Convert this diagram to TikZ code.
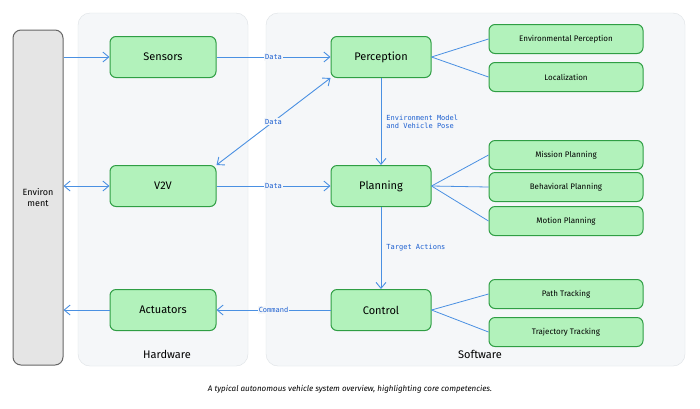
\documentclass[tikz,border=0pt]{standalone}
\usepackage{fontspec}
\setmainfont{Fira Sans}
\newfontfamily\lblfont{DejaVu Sans Mono}
\usetikzlibrary{arrows.meta}
\definecolor{gfill}{HTML}{B2F2BB}
\definecolor{gline}{HTML}{2F9E44}
\definecolor{ablue}{HTML}{4A90E2}
\definecolor{tblue}{HTML}{1C5FD0}
\definecolor{panel}{HTML}{F5F7F9}
\definecolor{panelline}{HTML}{DDE1E5}
\begin{document}
\begin{tikzpicture}[x=1pt,y=-1pt,
  box/.style={draw=gline,fill=gfill,line width=1pt,rounded corners=6pt,inner sep=0pt,font=\fontsize{11}{12}\selectfont},
  big/.style={box,minimum width=106pt,minimum height=41pt},
  mid/.style={box,minimum width=100pt,minimum height=41pt},
  small/.style={box,minimum width=154pt,minimum height=29pt,font=\fontsize{8}{9}\selectfont},
  arr/.style={draw=ablue,line width=0.9pt,-{Straight Barb[length=6pt,width=10pt]}},
  ln/.style={draw=ablue,line width=0.8pt},
  lbl/.style={fill=panel,inner sep=1pt,text=tblue,font=\lblfont\fontsize{7}{8}\selectfont}]
\useasboundingbox (0,0) rectangle (700,408);
\fill[white] (0,0) rectangle (700,408);
\draw[panelline,fill=panel,rounded corners=12pt] (78,13) rectangle (248,366);
\draw[panelline,fill=panel,rounded corners=12pt] (266,13) rectangle (685,366);
\node[draw=gray!80!black,fill=gray!20,line width=1pt,rounded corners=8pt,minimum width=50pt,minimum height=335pt,align=center,font=\fontsize{9}{11}\selectfont] (env) at (38,197.5) {Environ\\ment};
\node[big] (sen) at (163,57) {Sensors};
\node[big] (v2v) at (163,186) {V2V};
\node[big] (act) at (163,310) {Actuators};
\node[mid] (per) at (381,57) {Perception};
\node[mid] (pla) at (381,186) {Planning};
\node[mid] (con) at (381,310) {Control};
\node[small] (ep) at (566,39) {Environmental Perception};
\node[small] (lo) at (566,77) {Localization};
\node[small] (mp) at (566,155) {Mission Planning};
\node[small] (bp) at (566,187) {Behavioral Planning};
\node[small] (mo) at (566,221) {Motion Planning};
\node[small] (pt) at (566,294) {Path Tracking};
\node[small] (tt) at (566,332) {Trajectory Tracking};
\node[font=\fontsize{11}{12}\selectfont] (hw) at (167,354) {Hardware};
\node[font=\fontsize{11}{12}\selectfont] (sw) at (480,354) {Software};
\node[font=\itshape\fontsize{8}{9}\selectfont] (cap) at (350,389) {A typical autonomous vehicle system overview, highlighting core competencies.};
\path[arr] (env.east|-sen) -- (sen);
\path[arr,{Straight Barb[length=6pt,width=10pt]}-{Straight Barb[length=6pt,width=10pt]}] (env.east|-v2v) -- (v2v);
\path[arr] (act) -- (env.east|-act);
\path[arr] (sen) -- node[lbl]{Data} (per);
\path[arr] (v2v) -- node[lbl]{Data} (pla);
\path[arr,{Straight Barb[length=6pt,width=10pt]}-{Straight Barb[length=6pt,width=10pt]}] (v2v.north east) -- node[lbl]{Data} (per.south west);
\path[arr] (con) -- node[lbl]{Command} (act);
\path[arr] (per) -- node[lbl,fill=none,right,align=left,xshift=4pt]{Environment Model\\and Vehicle Pose} (pla);
\path[arr] (pla) -- node[lbl,fill=none,right,xshift=4pt]{Target Actions} (con);
\foreach \t in {ep,lo} \path[ln] (per.east) -- (\t.west);
\foreach \t in {mp,bp,mo} \path[ln] (pla.east) -- (\t.west);
\foreach \t in {pt,tt} \path[ln] (con.east) -- (\t.west);
\end{tikzpicture}
\end{document}
